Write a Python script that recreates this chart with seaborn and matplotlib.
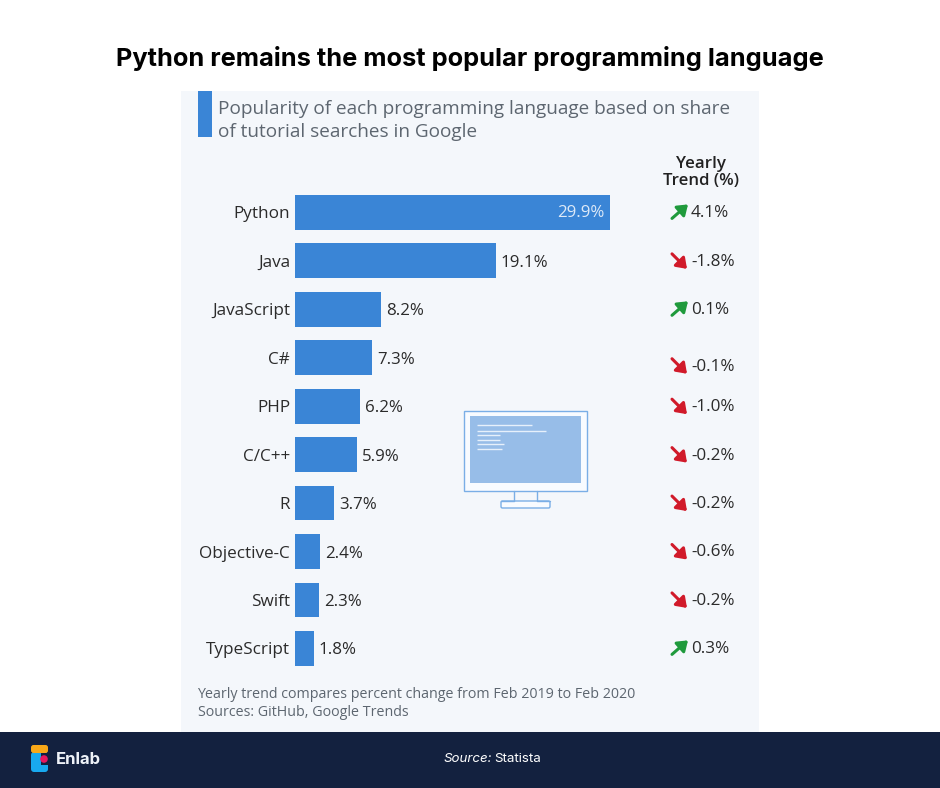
import seaborn as sns
import pandas as pd
import matplotlib
matplotlib.use("Agg")
import matplotlib.pyplot as plt
from matplotlib.patches import Rectangle, FancyBboxPatch, Circle

languages = ["Python", "Java", "JavaScript", "C#", "PHP", "C/C++", "R", "Objective-C", "Swift", "TypeScript"]
shares = [29.9, 19.1, 8.2, 7.3, 6.2, 5.9, 3.7, 2.4, 2.3, 1.8]
trends = [4.1, -1.8, 0.1, -0.1, -1.0, -0.2, -0.2, -0.6, -0.2, 0.3]
# the C# trend sits a bit lower than its bar in the original
trend_shift_px = [0, 0, 0, 8, 0, 0, 0, 0, 0, 0]

W, H = 940, 788
BAR = "#3a85d6"
PANEL = "#f4f7fb"
NAVY = "#13213f"
TXT = "#2b2b2b"
GREY = "#5d6670"
GREEN = "#1f9a3c"
RED = "#d11a2a"

sns.set_theme(style="white")
plt.rcParams['font.family'] = ['Open Sans', 'DejaVu Sans']

fig = plt.figure(figsize=(W / 100, H / 100), dpi=100, facecolor="white")

# background layer in pixel coordinates
bg = fig.add_axes([0, 0, 1, 1])
bg.set_xlim(0, W)
bg.set_ylim(H, 0)
bg.axis("off")
bg.add_patch(Rectangle((181, 91), 578, 641, fc=PANEL, ec="none"))
bg.add_patch(Rectangle((0, 732), W, 56, fc=NAVY, ec="none"))
bg.add_patch(Rectangle((198, 91), 14, 46, fc=BAR, ec="none"))

bg.text(470, 58, "Python remains the most popular programming language", ha="center", va="center",
        fontsize=18.3, fontweight="bold", family="Inter", color="black")
bg.text(218.5, 109, "Popularity of each programming language based on share", ha="left", va="center",
        fontsize=13.7, color=GREY)
bg.text(218.5, 132, "of tutorial searches in Google", ha="left", va="center", fontsize=13.7, color=GREY)
bg.text(701, 164, "Yearly", ha="center", va="center", fontsize=12.2, fontweight="semibold", color="#222222")
bg.text(701, 181, "Trend (%)", ha="center", va="center", fontsize=12.2, fontweight="semibold", color="#222222")
bg.text(197.5, 695, "Yearly trend compares percent change from Feb 2019 to Feb 2020", ha="left", va="center",
        fontsize=10.3, color=GREY)
bg.text(198, 712, "Sources: GitHub, Google Trends", ha="left", va="center", fontsize=10.3, color=GREY)

# footer
bg.text(444, 759, "Source:", ha="left", va="center", fontsize=9.6, style="italic", family="Inter", color="white")
bg.text(494, 759, "Statista", ha="left", va="center", fontsize=9.6, family="Inter", color="white")
bg.add_patch(FancyBboxPatch((31, 752), 17, 20, boxstyle="round,pad=0,rounding_size=3", fc="#18a9ef", ec="none"))
bg.add_patch(Rectangle((41, 753), 7, 12, fc=NAVY, ec="none"))
bg.add_patch(FancyBboxPatch((31, 745), 17, 8, boxstyle="round,pad=0,rounding_size=2.5", fc="#f9a818", ec="none"))
bg.add_patch(Circle((44, 759), 3.8, fc="#e8175d", ec="none"))
bg.text(56, 759, "Enlab", ha="left", va="center", fontsize=12, fontweight="bold", family="Inter", color="#eef2f8")

# monitor icon
ICON = "#7aaee6"
bg.add_patch(Rectangle((464, 411), 123, 80, fc="#f8fbff", ec=ICON, lw=1.0))
bg.add_patch(Rectangle((470, 416), 111, 67, fc="#97bde8", ec="none"))
for y0, x1 in [(425, 532), (431, 546), (435, 500), (440, 500), (444, 504), (449, 502)]:
    bg.plot([477, x1], [y0, y0], color="#e6f0fb", lw=1.0, solid_capstyle="butt")
bg.plot([514, 514, 501], [491, 501, 501], color=ICON, lw=1.0)
bg.plot([537, 537, 550], [491, 501, 501], color=ICON, lw=1.0)
bg.add_patch(FancyBboxPatch((501, 501), 49, 7, boxstyle="round,pad=0,rounding_size=1.5", fc="#f8fbff", ec=ICON, lw=1.0))

# bars
df = pd.DataFrame({"language": languages, "share": shares})
ax = fig.add_axes([295 / W, 1 - 672.6 / H, 464 / W, (672.6 - 188.2) / H])
ax.patch.set_alpha(0)
sns.barplot(data=df, x="share", y="language", color=BAR, saturation=1, width=0.72, linewidth=0, ax=ax)
ax.set_xlim(0, 464 / 10.52)
ax.set_ylim(9.5, -0.5)
ax.set_xlabel("")
ax.set_ylabel("")
ax.set_xticks([])
ax.tick_params(axis="y", length=0, pad=3.5, labelsize=12.3, labelcolor=TXT)
sns.despine(ax=ax, left=True, bottom=True)

for i, (s, t, shift) in enumerate(zip(shares, trends, trend_shift_px)):
    if i == 0:
        ax.annotate(f"{s}%", (s, i), xytext=(-5, -1), textcoords="offset pixels", ha="right", va="center",
                    fontsize=12.2, color="#dce9f8")
    else:
        ax.annotate(f"{s}%", (s, i), xytext=(5, -2), textcoords="offset pixels", ha="left", va="center",
                    fontsize=12.2, color=TXT)

    # trend column: row height comes from the bar axis, x is fixed in pixels
    py = ax.transData.transform((0, i))[1] - shift
    ax.annotate(f"{t}%", xy=(691, py - 1), xycoords="figure pixels", ha="left", va="center",
                fontsize=12.3, color=TXT)
    if t > 0:
        tail, head, color = (672, py - 6), (688, py + 8), GREEN
    else:
        tail, head, color = (672, py + 7), (687, py - 8), RED
    ax.annotate("", xy=head, xycoords="figure pixels", xytext=tail, textcoords="figure pixels",
                arrowprops=dict(arrowstyle="-|>,head_length=0.45,head_width=0.32", color=color, lw=2.2,
                                mutation_scale=13, shrinkA=0, shrinkB=0))

fig.savefig("out.png", dpi=100)
